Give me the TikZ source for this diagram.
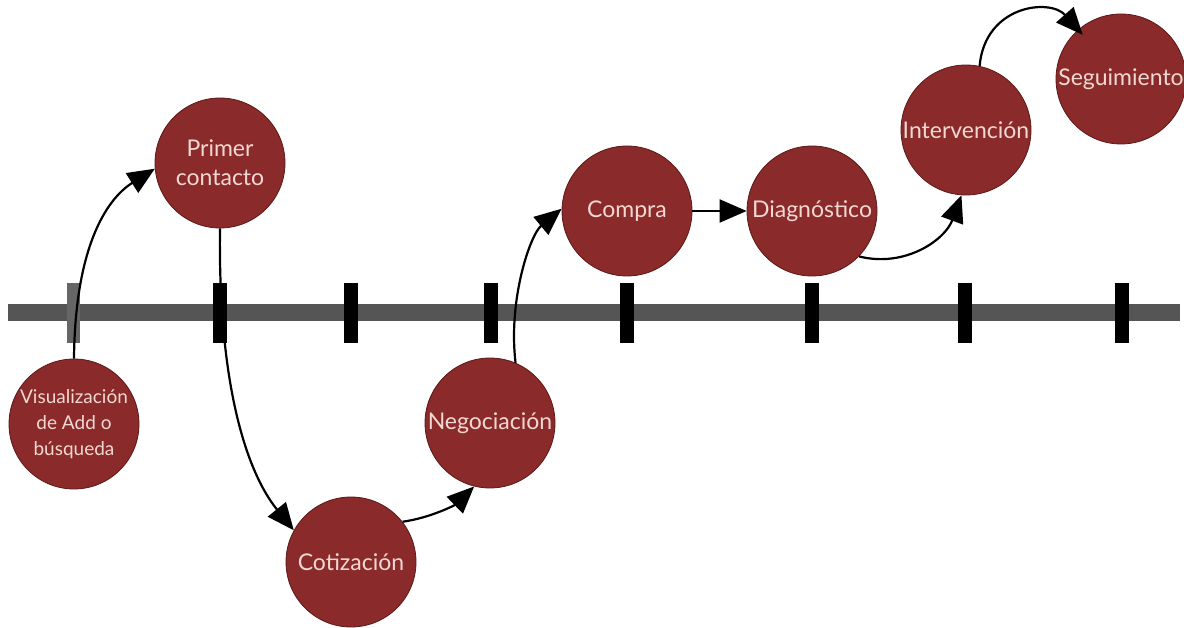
\documentclass[tikz,border=0pt]{standalone}
\usepackage{fontspec}
\setmainfont{Lato}
\usetikzlibrary{arrows.meta}
\definecolor{circfill}{HTML}{8B2A2A}
\definecolor{circdraw}{HTML}{5A1818}
\definecolor{circtext}{HTML}{F2D8D2}
\definecolor{bargray}{HTML}{555555}
\definecolor{tickgray}{HTML}{666666}
\tikzset{
  stage/.style={circle, fill=circfill, draw=circdraw, line width=0.8pt,
    minimum size=130pt, inner sep=0pt, align=center, text=circtext,
    font=\fontsize{23}{29}\selectfont},
  flow/.style={line width=2.2pt, -{Triangle[length=27pt,width=23pt]}},
  tickmark/.style={fill=black, draw=none}
}
\begin{document}
\begin{tikzpicture}[x=1pt,y=-1pt]
\useasboundingbox (0,0) rectangle (1184,628);
% timeline
\fill[bargray] (8,304) rectangle (1180,321);
\fill[tickgray] (67,283) rectangle (80,343);
\foreach \tx in {220,351,491,627,812,965,1122}
  \fill[tickmark] (\tx-7,283) rectangle (\tx+7,343);
% stages
\node[stage, font=\fontsize{19}{26}\selectfont] (V) at (74,424) {Visualización\\de Add o\\búsqueda};
\node[stage] (P) at (220,163) {Primer\\contacto};
\node[stage] (C) at (351,562) {Cotización};
\node[stage] (N) at (490,423) {Negociación};
\node[stage] (K) at (627,211) {Compra};
\node[stage] (D) at (812,211) {Diagnóstico};
\node[stage] (I) at (966,130) {Intervención};
\node[stage] (S) at (1121,79) {Seguimiento};
% connectors
\draw[flow] (V.north) .. controls (75,250) and (105,200) .. (P.185);
\draw[flow] (P.south) .. controls (218,380) and (245,470) .. (C.151);
\draw[flow] (C.38) .. controls (430,518) and (455,505) .. (N.256);
\draw[flow] (N.67) .. controls (508,300) and (530,235) .. (K.178);
\draw[flow] (K.east) -- (D.west);
\draw[flow] (D.-44) .. controls (905,268) and (945,240) .. (I.266);
\draw[flow, shorten >=-7pt] (I.78) .. controls (985,5) and (1050,-2) .. (S.131);
\end{tikzpicture}
\end{document}
